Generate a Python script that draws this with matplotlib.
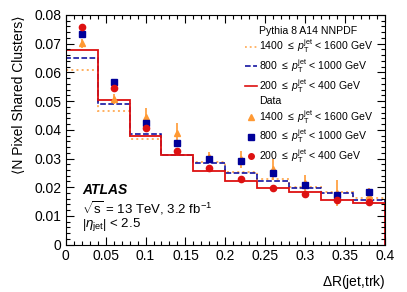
import numpy as np
import matplotlib
matplotlib.use("Agg")
import matplotlib.pyplot as plt
from matplotlib.lines import Line2D
from matplotlib.ticker import MultipleLocator, FuncFormatter

plt.rcParams['font.family'] = ['Liberation Sans', 'DejaVu Sans']
plt.rcParams['mathtext.fontset'] = 'custom'
plt.rcParams['mathtext.rm'] = 'Liberation Sans'
plt.rcParams['mathtext.it'] = 'Liberation Sans:italic'
plt.rcParams['mathtext.bf'] = 'Liberation Sans:bold'

# ---- data ----
edges = [0.0, 0.04, 0.08, 0.12, 0.16, 0.20, 0.24, 0.28, 0.32, 0.36, 0.40]
centers = [0.02, 0.06, 0.10, 0.14, 0.18, 0.22, 0.26, 0.30, 0.34, 0.38]

mc_1400 = [0.0608, 0.0467, 0.0367, 0.0312, 0.0287, 0.0253, 0.0228, 0.0202, 0.0182, 0.0161]
mc_800 = [0.0649, 0.0489, 0.0386, 0.0313, 0.0283, 0.0249, 0.0223, 0.0197, 0.0179, 0.0154]
mc_200 = [0.0677, 0.0504, 0.0377, 0.0313, 0.0256, 0.0223, 0.0196, 0.0182, 0.0155, 0.0144]

data_1400 = [0.0701, 0.0507, 0.0446, 0.0388, 0.0304, 0.0297, 0.0262, 0.0214, 0.0179, 0.0169]
err_1400 = [0.0016, 0.0017, 0.0030, 0.0035, 0.0020, 0.0030, 0.0037, 0.0030, 0.0045, 0.0030]
data_800 = [0.0733, 0.0568, 0.0423, 0.0353, 0.0300, 0.0291, 0.0248, 0.0208, 0.0173, 0.0182]
err_800 = [0.0006, 0.0006, 0.0007, 0.0007, 0.0007, 0.0008, 0.0008, 0.0008, 0.0009, 0.0009]
data_200 = [0.0757, 0.0545, 0.0405, 0.0325, 0.0267, 0.0228, 0.0198, 0.0175, 0.0154, 0.0147]
err_200 = [0.0003, 0.0003, 0.0003, 0.0003, 0.0003, 0.0003, 0.0003, 0.0003, 0.0003, 0.0003]

labels = [r'1400 $\leq$ $p_{\mathrm{T}}^{\mathrm{jet}}$ < 1600 GeV',
          r'800 $\leq$ $p_{\mathrm{T}}^{\mathrm{jet}}$ < 1000 GeV',
          r'200 $\leq$ $p_{\mathrm{T}}^{\mathrm{jet}}$ < 400 GeV']

c_or = '#ff9933'
c_or_mc = '#ffb060'
c_bl = '#000099'
c_rd = '#dd1111'

fig = plt.figure(figsize=(4.07, 2.92), dpi=100)
ax = fig.add_axes([0.161, 0.162, 0.786, 0.787])

ax.stairs(mc_1400, edges, color=c_or_mc, ls=':', lw=1.4)
ax.stairs(mc_800, edges, color=c_bl, ls='--', lw=1.1)
ax.stairs(mc_200, edges, color=c_rd, ls='-', lw=1.3)

ax.errorbar(centers, data_1400, yerr=err_1400, fmt='^', color=c_or, ms=4.5, elinewidth=1.2, capsize=0)
ax.errorbar(centers, data_800, yerr=err_800, fmt='s', color=c_bl, ecolor='#8888dd', ms=4.3, elinewidth=1.2, capsize=0)
ax.errorbar(centers, data_200, yerr=err_200, fmt='o', color=c_rd, ms=4.5, elinewidth=1.0, capsize=0)

ax.set_xlim(0, 0.4)
ax.set_ylim(0, 0.08)
ax.xaxis.set_major_locator(MultipleLocator(0.05))
ax.xaxis.set_minor_locator(MultipleLocator(0.01))
ax.yaxis.set_major_locator(MultipleLocator(0.01))
ax.yaxis.set_minor_locator(MultipleLocator(0.002))
fmt = FuncFormatter(lambda v, p: '0' if abs(v) < 1e-9 else ('%.2f' % v).rstrip('0'))
ax.xaxis.set_major_formatter(fmt)
ax.yaxis.set_major_formatter(fmt)
ax.tick_params(which='both', direction='in', top=True, right=True, labelsize=10, colors='black', pad=3)
ax.tick_params(which='major', length=6, width=0.8)
ax.tick_params(which='minor', length=3, width=0.8)
for s in ax.spines.values():
    s.set_linewidth(0.8)

ax.set_xlabel(r'$\Delta$R(jet,trk)', fontsize=10, loc='right', labelpad=7)
ax.set_ylabel('⟨N Pixel Shared Clusters⟩', fontsize=10, loc='top', labelpad=6)

# legend
hdr = Line2D([], [], alpha=0)
handles = [hdr,
           Line2D([], [], color=c_or_mc, ls=':', lw=1.3),
           Line2D([], [], color=c_bl, ls='--', lw=1.1),
           Line2D([], [], color=c_rd, ls='-', lw=1.2),
           hdr,
           Line2D([], [], color=c_or, marker='^', ls='none', ms=4),
           Line2D([], [], color=c_bl, marker='s', ls='none', ms=4),
           Line2D([], [], color=c_rd, marker='o', ls='none', ms=4)]
texts = ['Pythia 8 A14 NNPDF'] + labels + ['Data'] + labels
leg = ax.legend(handles, texts, loc='upper right', bbox_to_anchor=(0.985, 0.985), frameon=False,
                fontsize=7.6, handlelength=1.1, handletextpad=0.2, labelspacing=0.16, borderaxespad=0.3)

ax.text(0.053, 0.238, 'ATLAS', transform=ax.transAxes, fontsize=10, fontweight='bold', style='italic', va='center')
ax.text(0.053, 0.159, r'$\sqrt{\mathrm{s}}$ = 13 TeV, 3.2 fb$^{-1}$', transform=ax.transAxes, fontsize=9.5, va='center')
ax.text(0.053, 0.085, r'$\left|\eta_{\mathrm{jet}}\right|$ < 2.5', transform=ax.transAxes, fontsize=9.5, va='center')

fig.savefig('out.png', dpi=100)
